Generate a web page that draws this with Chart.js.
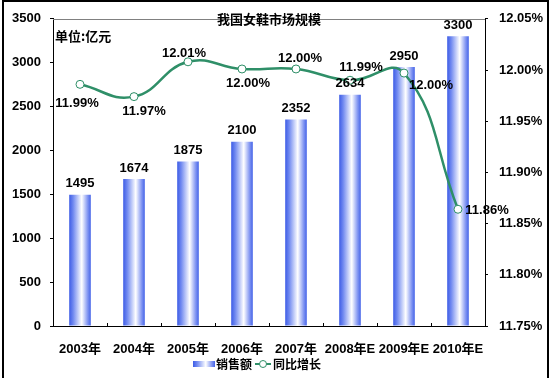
<!DOCTYPE html>
<html><head><meta charset="utf-8">
<script src="https://cdn.jsdelivr.net/npm/chart.js@4.4.0/dist/chart.umd.min.js"></script>
<style>
html,body{margin:0;padding:0;background:#fff;overflow:hidden;}
#wrap{position:relative;width:553px;height:378px;}
canvas{display:block;}
</style>
</head><body>
<div id="wrap"><canvas id="c" width="553" height="378"></canvas></div>
<script>
// ---- data ----
const categories = ['2003年','2004年','2005年','2006年','2007年','2008年E','2009年E','2010年E'];
const salesValues = [1495, 1674, 1875, 2100, 2352, 2634, 2950, 3300];
const growthValues = [11.986, 11.974, 12.008, 12.001, 12.001, 11.990, 11.997, 11.864];
const leftTicks = [0, 500, 1000, 1500, 2000, 2500, 3000, 3500];
const rightTicks = [11.75, 11.80, 11.85, 11.90, 11.95, 12.00, 12.05];
const seriesNames = ['销售额', '同比增长'];
const titleText = '我国女鞋市场规模';
const unitText = '单位:亿元';

// ---- styles / label placement ----
const growthLabelOffsets = [[-3,19],[10,15],[-4,-8],[6,14],[4,-11],[11,-13],[27,12],[29,1]];
const GREEN = '#2f8f68';
const NUM_FONT = 'bold 13px "Liberation Sans", Arial, "Noto Sans CJK SC", sans-serif';
const CJK_FONT = 'bold 13px "Noto Sans CJK SC", "Liberation Sans", sans-serif';
const LEGEND_FONT = 'bold 12px "Noto Sans CJK SC", "Liberation Sans", sans-serif';
const BAR_FRAC = 0.4;

function barGradient(c, x0, x1) {
  const g = c.createLinearGradient(x0, 0, x1, 0);
  g.addColorStop(0, '#3d5ce6');
  g.addColorStop(0.18, '#6f88f0');
  g.addColorStop(0.58, '#ffffff');
  g.addColorStop(0.85, '#8397f2');
  g.addColorStop(1, '#4463e8');
  return g;
}

const decor = {
  id: 'decor',
  beforeDraw(chart) {
    const c = chart.ctx;
    c.save();
    c.fillStyle = '#fff';
    c.fillRect(0, 0, chart.width, chart.height);
    c.restore();
  },
  afterDatasetsDraw(chart) {
    const c = chart.ctx;
    const a = chart.chartArea;
    const xs = chart.scales.x;
    c.save();
    // top border of plot area
    c.strokeStyle = '#808080';
    c.lineWidth = 1;
    c.beginPath();
    c.moveTo(a.left, Math.round(a.top) + 0.5);
    c.lineTo(a.right, Math.round(a.top) + 0.5);
    c.stroke();
    // inner x ticks between categories
    c.strokeStyle = '#000';
    const step = xs.width / categories.length;
    for (let i = 1; i < categories.length; i++) {
      const x = Math.round(a.left + step * i) + 0.5;
      c.beginPath();
      c.moveTo(x, a.bottom);
      c.lineTo(x, a.bottom - 3);
      c.stroke();
    }
    // bar value labels
    const barMeta = chart.getDatasetMeta(0);
    c.fillStyle = '#000';
    c.font = NUM_FONT;
    c.textAlign = 'center';
    c.textBaseline = 'middle';
    barMeta.data.forEach((el, i) => {
      c.fillText(String(salesValues[i]), el.x, el.y - 11);
    });
    // line labels
    const lineMeta = chart.getDatasetMeta(1);
    lineMeta.data.forEach((el, i) => {
      const o = growthLabelOffsets[i];
      c.fillText(growthValues[i].toFixed(2) + '%', el.x + o[0], el.y + o[1]);
    });
    // title and unit
    c.font = CJK_FONT;
    c.textAlign = 'center';
    c.fillText(titleText, 269, 19);
    c.textAlign = 'left';
    c.fillText(unitText, 55, 36);
    // legend
    const ly = 364;
    c.font = LEGEND_FONT;
    c.fillStyle = barGradient(c, 193, 215);
    c.fillRect(193, ly - 3, 22, 6);
    c.fillStyle = '#000';
    c.fillText(seriesNames[0], 216, ly);
    c.strokeStyle = GREEN;
    c.lineWidth = 2;
    c.beginPath();
    c.moveTo(255, ly); c.lineTo(271, ly);
    c.stroke();
    c.fillStyle = '#fff';
    c.lineWidth = 1;
    c.beginPath();
    c.arc(263, ly, 3.5, 0, Math.PI * 2);
    c.fill(); c.stroke();
    c.fillStyle = '#000';
    c.fillText(seriesNames[1], 273, ly);
    // outer frame
    c.fillStyle = '#000';
    c.fillRect(2, 0, 547, 2);
    c.fillRect(2, 0, 2, 378);
    c.fillRect(547, 0, 2, 378);
    c.restore();
  }
};

new Chart(document.getElementById('c'), {
  data: {
    labels: categories,
    datasets: [
      {
        type: 'bar',
        label: seriesNames[0],
        data: salesValues,
        yAxisID: 'y',
        order: 2,
        barPercentage: BAR_FRAC,
        categoryPercentage: 1,
        borderWidth: 0,
        backgroundColor: (ctx) => {
          const chart = ctx.chart;
          const xs = chart.scales.x;
          if (!xs || ctx.type !== 'data') return '#6f88f0';
          const cx = xs.getPixelForValue(ctx.dataIndex);
          const w = xs.width / categories.length * BAR_FRAC;
          if (!isFinite(cx) || !isFinite(w) || w <= 0) return '#6f88f0';
          return barGradient(chart.ctx, cx - w / 2, cx + w / 2);
        }
      },
      {
        type: 'line',
        label: seriesNames[1],
        data: growthValues,
        yAxisID: 'y1',
        order: 1,
        borderColor: GREEN,
        borderWidth: 2.5,
        tension: 0.45,
        pointRadius: 4,
        pointHoverRadius: 4,
        pointBackgroundColor: '#fff',
        pointBorderColor: GREEN,
        pointBorderWidth: 1
      }
    ]
  },
  options: {
    responsive: false,
    animation: false,
    devicePixelRatio: 1,
    layout: { padding: { top: 13, left: 0, right: 0, bottom: 0 } },
    plugins: { legend: { display: false }, tooltip: { enabled: false }, title: { display: false } },
    scales: {
      x: {
        type: 'category',
        offset: true,
        grid: { display: false },
        border: { display: true, color: '#000', width: 1 },
        ticks: { color: '#000', font: { family: '"Liberation Sans", Arial, "Noto Sans CJK SC", sans-serif', size: 13, weight: 'bold' }, padding: 8, maxRotation: 0, autoSkip: false },
        afterFit: (s) => { s.height = 52; }
      },
      y: {
        position: 'left',
        min: 0, max: 3500,
        afterBuildTicks: (s) => { s.ticks = leftTicks.map(v => ({ value: v })); },
        grid: { drawOnChartArea: false, tickLength: 3, color: '#000' },
        border: { display: true, color: '#000', width: 1 },
        ticks: { color: '#000', font: { family: '"Liberation Sans", Arial, sans-serif', size: 13, weight: 'bold' }, padding: 9, callback: (v) => String(v) },
        afterFit: (s) => { s.width = 53; }
      },
      y1: {
        position: 'right',
        min: 11.75, max: 12.05,
        afterBuildTicks: (s) => { s.ticks = rightTicks.map(v => ({ value: v })); },
        grid: { drawOnChartArea: false, tickLength: 3, color: '#000' },
        border: { display: true, color: '#000', width: 1 },
        ticks: { color: '#000', font: { family: '"Liberation Sans", Arial, sans-serif', size: 13, weight: 'bold' }, padding: 11, callback: (v) => Number(v).toFixed(2) + '%' },
        afterFit: (s) => { s.width = 68; }
      }
    }
  },
  plugins: [decor]
});
</script>
</body></html>
